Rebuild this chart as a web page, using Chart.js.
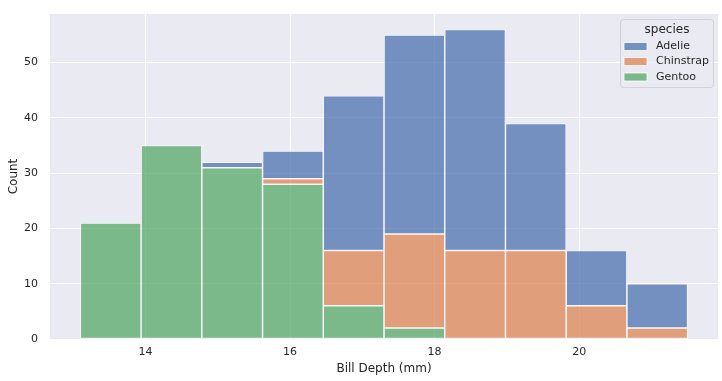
<!DOCTYPE html>
<html>
<head>
<meta charset="utf-8">
<script src="https://cdn.jsdelivr.net/npm/chart.js@4.4.1/dist/chart.umd.min.js"></script>
<style>
html, body { margin: 0; padding: 0; background: #ffffff; }
#wrap { position: relative; width: 722px; height: 381px; }
</style>
</head>
<body>
<div id="wrap"><canvas id="c" width="722" height="381"></canvas></div>
<script>
// Bin edges (Bill Depth, mm)
const binEdges = [13.1, 13.94, 14.78, 15.62, 16.46, 17.3, 18.14, 18.98, 19.82, 20.66, 21.5];
// Counts per bin, per species (stacked)
const gentoo    = [21, 35, 31, 28, 6, 2, 0, 0, 0, 0];
const chinstrap = [0, 0, 0, 1, 10, 17, 16, 16, 6, 2];
const adelie    = [0, 0, 1, 5, 28, 36, 40, 23, 10, 8];
const speciesNames = ['Adelie', 'Chinstrap', 'Gentoo'];
const xTicks = [14, 16, 18, 20];
const yTicks = [0, 10, 20, 30, 40, 50];

const COLORS = {
  Adelie: 'rgba(76,114,176,0.75)',
  Chinstrap: 'rgba(221,132,82,0.75)',
  Gentoo: 'rgba(85,168,104,0.75)'
};
const TEXT = '#262626';
const FONT = 'DejaVu Sans';

function toPoints(counts) {
  return counts.map((v, i) => ({ x: (binEdges[i] + binEdges[i + 1]) / 2, y: v }));
}

const bgPlugin = {
  id: 'bg',
  beforeDraw(chart) {
    const { ctx, chartArea: a } = chart;
    ctx.save();
    ctx.fillStyle = '#EAEAF2';
    ctx.fillRect(a.left, a.top, a.right - a.left, a.bottom - a.top);
    ctx.restore();
  }
};

const legendPlugin = {
  id: 'customLegend',
  afterDraw(chart) {
    const ctx = chart.ctx;
    ctx.save();
    const bx = 620.5, by = 19.5, bw = 93, bh = 68, r = 3;
    ctx.beginPath();
    ctx.moveTo(bx + r, by);
    ctx.lineTo(bx + bw - r, by);
    ctx.arcTo(bx + bw, by, bx + bw, by + r, r);
    ctx.lineTo(bx + bw, by + bh - r);
    ctx.arcTo(bx + bw, by + bh, bx + bw - r, by + bh, r);
    ctx.lineTo(bx + r, by + bh);
    ctx.arcTo(bx, by + bh, bx, by + bh - r, r);
    ctx.lineTo(bx, by + r);
    ctx.arcTo(bx, by, bx + r, by, r);
    ctx.closePath();
    ctx.fillStyle = 'rgba(234,234,242,0.8)';
    ctx.fill();
    ctx.strokeStyle = 'rgba(204,204,204,0.8)';
    ctx.lineWidth = 1;
    ctx.stroke();

    ctx.fillStyle = TEXT;
    ctx.textBaseline = 'middle';
    ctx.textAlign = 'center';
    ctx.font = '12px "' + FONT + '"';
    ctx.fillText('species', 667, 29.5);

    ctx.textAlign = 'left';
    ctx.font = '11px "' + FONT + '"';
    const rows = [46.5, 61.5, 77];
    speciesNames.forEach((name, i) => {
      const cy = rows[i];
      ctx.fillStyle = '#EAEAF2';
      ctx.fillRect(624, cy - 4, 23, 8);
      ctx.fillStyle = COLORS[name];
      ctx.fillRect(624, cy - 4, 23, 8);
      ctx.strokeStyle = '#ffffff';
      ctx.lineWidth = 0.75;
      ctx.strokeRect(624, cy - 4, 23, 8);
      ctx.fillStyle = TEXT;
      ctx.fillText(name, 656, cy);
    });
    ctx.restore();
  }
};

const barCommon = {
  borderColor: '#ffffff',
  borderWidth: 0.75,
  borderSkipped: false,
  inflateAmount: 0,
  barPercentage: 1.0,
  categoryPercentage: 1.0
};

new Chart(document.getElementById('c'), {
  type: 'bar',
  data: {
    datasets: [
      Object.assign({ label: 'Gentoo', data: toPoints(gentoo), backgroundColor: COLORS.Gentoo }, barCommon),
      Object.assign({ label: 'Chinstrap', data: toPoints(chinstrap), backgroundColor: COLORS.Chinstrap }, barCommon),
      Object.assign({ label: 'Adelie', data: toPoints(adelie), backgroundColor: COLORS.Adelie }, barCommon)
    ]
  },
  options: {
    responsive: false,
    animation: false,
    devicePixelRatio: 1,
    layout: { padding: { left: 0, right: 4, top: 14, bottom: 0 } },
    plugins: {
      legend: { display: false },
      tooltip: { enabled: false }
    },
    scales: {
      x: {
        type: 'linear',
        stacked: true,
        offset: false,
        min: 12.68,
        max: 21.92,
        afterBuildTicks(scale) { scale.ticks = xTicks.map(v => ({ value: v })); },
        afterFit(scale) { scale.height = 42; scale.paddingLeft = 0; scale.paddingRight = 0; },
        grid: { color: '#ffffff', lineWidth: 1, drawTicks: false, offset: false },
        border: { display: false },
        ticks: {
          color: TEXT,
          font: { family: FONT, size: 11 },
          padding: 7,
          maxRotation: 0,
          callback: (v) => String(v)
        },
        title: {
          display: true,
          text: 'Bill Depth (mm)',
          color: TEXT,
          font: { family: FONT, size: 12 },
          padding: { top: 0, bottom: 5 }
        }
      },
      y: {
        type: 'linear',
        stacked: true,
        min: 0,
        max: 58.8,
        afterBuildTicks(scale) { scale.ticks = yTicks.map(v => ({ value: v })); },
        afterFit(scale) { scale.width = 50; scale.paddingTop = 0; scale.paddingBottom = 0; },
        grid: { color: '#ffffff', lineWidth: 1, drawTicks: false },
        border: { display: false },
        ticks: {
          color: TEXT,
          font: { family: FONT, size: 11 },
          padding: 12,
          callback: (v) => String(v)
        },
        title: {
          display: true,
          text: 'Count',
          color: TEXT,
          font: { family: FONT, size: 12 },
          padding: { top: 7, bottom: 0 }
        }
      }
    }
  },
  plugins: [bgPlugin, legendPlugin]
});
</script>
</body>
</html>
